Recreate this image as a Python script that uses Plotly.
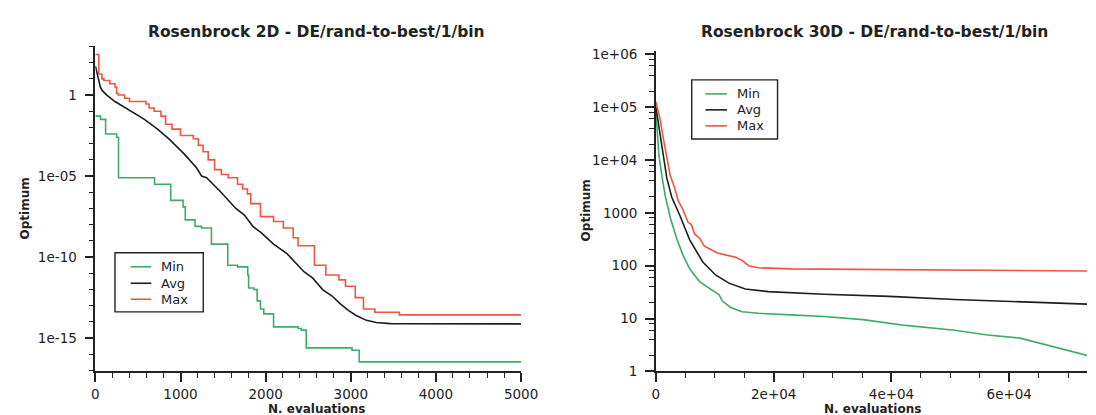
import numpy as np
import plotly.graph_objects as go

# ---------------- data (optimum given as log10 values) ----------------
series_names = ["Min", "Avg", "Max"]
colors = {"Min": "#3fab66", "Avg": "#1e1e1e", "Max": "#ef5545"}

# Rosenbrock 2D
min2d_x = [0, 60, 120, 250, 272, 695, 885, 1030, 1056, 1171, 1248, 1363, 1555, 1670,
           1790, 1800, 1862, 1900, 1939, 1978, 2093, 2381, 2420, 2477, 3014, 3099, 5000]
min2d_log = [-1.3, -1.5, -2.4, -2.6, -5.1, -5.5, -6.5, -6.9, -7.7, -8.1, -8.2, -9.2, -10.5, -10.6,
             -11.1, -11.9, -12.0, -12.7, -13.2, -13.5, -14.3, -14.4, -14.5, -15.6, -15.74, -16.46, -16.42]

avg2d_x = [0, 20, 58, 77, 134, 230, 326, 461, 576, 730, 864, 1037, 1190, 1248, 1306, 1459, 1560,
           1650, 1750, 1850, 1950, 2093, 2254, 2362, 2450, 2554, 2669, 2780, 2880, 2976, 3063,
           3184, 3300, 3467, 4000, 5000]
avg2d_log = [1.8, 1.3, 0.5, 0.3, 0.0, -0.4, -0.7, -1.1, -1.5, -2.1, -2.7, -3.6, -4.5, -5.0, -5.1,
             -5.9, -6.5, -7.0, -7.4, -8.1, -8.5, -9.2, -9.8, -10.4, -10.9, -11.3, -12.0, -12.4,
             -12.9, -13.3, -13.6, -13.9, -14.03, -14.1, -14.12, -14.12]

max2d_x = [0, 40, 77, 100, 170, 230, 250, 270, 345, 400, 595, 630, 690, 770, 825, 900, 1000, 1150,
           1210, 1265, 1325, 1400, 1480, 1560, 1670, 1730, 1786, 1824, 1939, 2093, 2208, 2324,
           2381, 2573, 2707, 2861, 2938, 3053, 3149, 3283, 3571, 5000]
max2d_log = [2.5, 1.3, 1.0, 0.9, 0.7, 0.5, 0.1, 0.0, -0.2, -0.4, -0.55, -0.8, -1.0, -1.3, -1.8,
             -2.1, -2.5, -2.7, -3.1, -3.5, -4.0, -4.6, -4.9, -5.1, -5.5, -5.8, -6.1, -6.7, -7.5,
             -7.8, -8.2, -8.8, -9.3, -10.5, -11.1, -11.4, -11.8, -12.5, -13.2, -13.4, -13.56, -13.56]

# Rosenbrock 30D
min30d_x = [0, 511, 1067, 1622, 2456, 3567, 4622, 5733, 7400, 9067, 10733, 11289, 12678, 14622,
            17400, 22956, 28511, 35178, 42400, 50733, 56289, 61844, 67400, 74000]
min30d_log = [4.9, 4.09, 3.66, 3.3, 2.9, 2.5, 2.19, 1.94, 1.70, 1.57, 1.45, 1.33, 1.21, 1.13,
              1.10, 1.07, 1.04, 0.98, 0.87, 0.78, 0.69, 0.63, 0.47, 0.28]

avg30d_x = [0, 733, 1289, 1844, 2678, 4067, 5733, 7956, 10178, 12400, 15178, 19067, 28511,
            39622, 50733, 61844, 74000]
avg30d_log = [5.0, 4.45, 4.03, 3.66, 3.3, 2.95, 2.49, 2.07, 1.82, 1.67, 1.56, 1.51, 1.46,
              1.42, 1.36, 1.32, 1.27]

max30d_x = [0, 733, 1289, 1844, 2400, 3233, 3789, 4622, 5456, 6011, 6567, 7400, 8233, 9067,
            10456, 12000, 13511, 14622, 15733, 17400, 22956, 34067, 50733, 61844, 74000]
max30d_log = [5.1, 4.76, 4.39, 4.03, 3.72, 3.45, 3.23, 3.05, 2.82, 2.78, 2.6, 2.52, 2.37, 2.32,
              2.24, 2.2, 2.16, 2.10, 2.00, 1.96, 1.94, 1.93, 1.92, 1.92, 1.90]

# tick labels
y1_tickvals = [1, 1e-5, 1e-10, 1e-15]
y1_ticktext = ["1", "1e-05", "1e-10", "1e-15"]
y2_tickvals = [1, 10, 100, 1000, 1e4, 1e5, 1e6]
y2_ticktext = ["1", "10", "100", "1000", "1e+04", "1e+05", "1e+06"]
x1_tickvals = [0, 1000, 2000, 3000, 4000, 5000]
x1_ticktext = ["0", "1000", "2000", "3000", "4000", "5000"]
x2_tickvals = [0, 20000, 40000, 60000]
x2_ticktext = ["0", "2e+04", "4e+04", "6e+04"]

titles = ["Rosenbrock 2D - DE/rand-to-best/1/bin", "Rosenbrock 30D - DE/rand-to-best/1/bin"]
xlabel = "N. evaluations"
ylabel = "Optimum"

FONT = "DejaVu Sans"
INK = "#222"
W, H = 1096, 415


def px_x(p):
    return p / W


def px_y(p):
    return 1 - p / H


fig = go.Figure()

left = [("Min", min2d_x, min2d_log, "hv"), ("Avg", avg2d_x, avg2d_log, "linear"),
        ("Max", max2d_x, max2d_log, "hv")]
right = [("Min", min30d_x, min30d_log), ("Avg", avg30d_x, avg30d_log), ("Max", max30d_x, max30d_log)]

for name, xs, ls, shape in left:
    fig.add_trace(go.Scatter(x=xs, y=np.power(10.0, ls), mode="lines", name=name,
                             line=dict(color=colors[name], width=1.6, shape=shape),
                             xaxis="x", yaxis="y", showlegend=False))
for name, xs, ls in right:
    fig.add_trace(go.Scatter(x=xs, y=np.power(10.0, ls), mode="lines", name=name,
                             line=dict(color=colors[name], width=1.6),
                             xaxis="x2", yaxis="y2", showlegend=False))

axis_common = dict(showline=True, linecolor=INK, linewidth=1.7, ticks="outside", ticklen=9,
                   tickwidth=1.5, tickcolor=INK, showgrid=False, zeroline=False,
                   tickfont=dict(family=FONT, size=13.5, color=INK))
minor_common = dict(ticks="outside", ticklen=5, tickwidth=1.3, tickcolor=INK)

y_bottom = px_y(370)

fig.update_layout(
    width=W, height=H, margin=dict(l=0, r=0, t=0, b=0),
    paper_bgcolor="white", plot_bgcolor="white", showlegend=False,
    xaxis=dict(domain=[px_x(85), px_x(519)], range=[0, 5000], anchor="y",
               tickmode="array", tickvals=x1_tickvals, ticktext=x1_ticktext,
               minor=dict(dtick=200, tick0=0, **minor_common), ticklabelstandoff=1,
               **axis_common),
    yaxis=dict(type="log", domain=[y_bottom, px_y(34.5)], range=[-17.05, 3], anchor="x",
               tickmode="array", tickvals=y1_tickvals, ticktext=y1_ticktext,
               minor=dict(tickmode="array", tickvals=[10.0 ** k for k in range(-17, 4)], **minor_common),
               ticklabelstandoff=5, **axis_common),
    xaxis2=dict(domain=[px_x(656.5), 1.0], range=[0, 73200], anchor="y2",
                tickmode="array", tickvals=x2_tickvals, ticktext=x2_ticktext,
                minor=dict(dtick=5000, tick0=0, **minor_common), ticklabelstandoff=1,
                **axis_common),
    yaxis2=dict(type="log", domain=[y_bottom, px_y(39.3)], range=[0, 6.06], anchor="x2",
                tickmode="array", tickvals=y2_tickvals, ticktext=y2_ticktext,
                minor=dict(tickmode="array",
                           tickvals=[m * 10.0 ** k for k in range(0, 6) for m in (2, 4, 6, 8)],
                           **minor_common),
                ticklabelstandoff=5, **axis_common),
)

# titles
for text, cx in zip(titles, (310, 879)):
    fig.add_annotation(text=text, x=px_x(cx), y=px_y(20), xref="paper", yref="paper",
                       xanchor="center", yanchor="middle", showarrow=False,
                       font=dict(family=FONT, size=15.5, color=INK, weight="bold"))

# axis titles
for cx in (310, 877):
    fig.add_annotation(text=xlabel, x=px_x(cx), y=px_y(409), xref="paper", yref="paper",
                       xanchor="center", yanchor="middle", showarrow=False,
                       font=dict(family=FONT, size=12, color=INK, weight="bold"))
for cx, cy in ((13, 202), (585, 204)):
    fig.add_annotation(text=ylabel, x=px_x(cx), y=px_y(cy), xref="paper", yref="paper",
                       xanchor="center", yanchor="middle", showarrow=False, textangle=-90,
                       font=dict(family=FONT, size=12, color=INK, weight="bold"))

# legends (box, line samples and labels), one per panel
legend_boxes = [
    dict(x0=105, x1=195, y0=247.5, y1=308.5, lx0=121, lx1=142, tx=150, rows=(262, 279, 295.5)),
    dict(x0=693, x1=780.5, y0=69, y1=130, lx0=707, lx1=729, tx=737, rows=(83.5, 100, 116.5)),
]
for lb in legend_boxes:
    fig.add_shape(type="rect", xref="paper", yref="paper",
                  x0=px_x(lb["x0"]), x1=px_x(lb["x1"]), y0=px_y(lb["y1"]), y1=px_y(lb["y0"]),
                  line=dict(color=INK, width=1.4), fillcolor="white", layer="above")
    for name, ry in zip(series_names, lb["rows"]):
        fig.add_shape(type="line", xref="paper", yref="paper",
                      x0=px_x(lb["lx0"]), x1=px_x(lb["lx1"]), y0=px_y(ry), y1=px_y(ry),
                      line=dict(color=colors[name], width=1.6), layer="above")
        fig.add_annotation(text=name, x=px_x(lb["tx"]), y=px_y(ry), xref="paper", yref="paper",
                           xanchor="left", yanchor="middle", showarrow=False,
                           font=dict(family=FONT, size=13, color=INK))

fig.write_html("out.html")
